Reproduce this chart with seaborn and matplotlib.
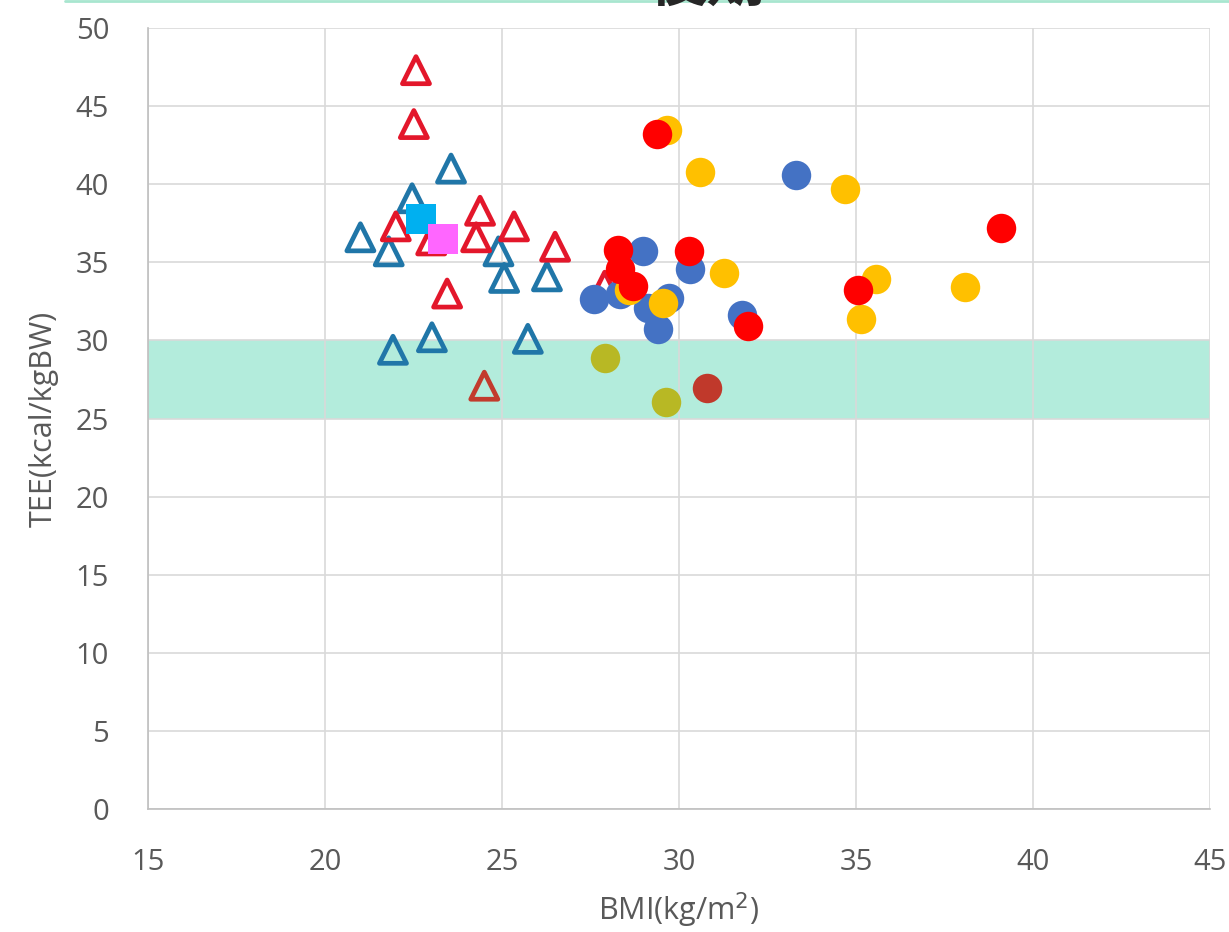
import matplotlib
import matplotlib.pyplot as plt
import pandas as pd
import seaborn as sns
from matplotlib.lines import Line2D

matplotlib.use("Agg")

# --- data (BMI, TEE) ---
tri_red_x = [22.57, 22.51, 24.38, 22.0, 25.34, 24.27, 26.5, 23.0, 23.45, 27.9]
tri_red_y = [47.3, 43.85, 38.3, 37.3, 37.3, 36.6, 36.0, 36.4, 33.0, 33.5]
tri_brown_x = [24.5]
tri_brown_y = [27.1]
tri_blue_x = [23.56, 22.46, 21.0, 21.8, 24.9, 25.06, 26.27, 21.92, 23.02, 25.73]
tri_blue_y = [41.0, 39.1, 36.6, 35.7, 35.7, 34.0, 34.1, 29.4, 30.2, 30.1]
sq_cyan_x = [22.71]
sq_cyan_y = [37.8]
sq_pink_x = [23.33]
sq_pink_y = [36.5]
dot_blue_x = [28.98, 27.6, 28.33, 29.12, 29.72, 29.4, 30.31, 33.3, 31.78]
dot_blue_y = [35.7, 32.65, 33.0, 32.1, 32.7, 30.7, 34.6, 40.6, 31.6]
dot_yellow_x = [29.66, 30.59, 31.27, 29.55, 34.7, 35.57, 35.14, 38.08, 28.6]
dot_yellow_y = [43.5, 40.8, 34.3, 32.4, 39.7, 33.9, 31.4, 33.4, 33.2]
dot_red_x = [29.38, 28.28, 30.28, 28.33, 28.7, 35.06, 31.95, 39.1]
dot_red_y = [43.2, 35.8, 35.7, 34.6, 33.5, 33.2, 30.9, 37.2]
dot_olive_x = [27.9, 29.63]
dot_olive_y = [28.9, 26.05]
dot_brown_x = [30.79]
dot_brown_y = [26.95]

x_ticks = [15, 20, 25, 30, 35, 40, 45]
y_ticks = [0, 5, 10, 15, 20, 25, 30, 35, 40, 45, 50]
band = (25, 30)

sns.set_style("white")
plt.rcParams["font.family"] = ["Open Sans", "Noto Sans CJK JP", "DejaVu Sans"]

grey_txt = "#595959"
fig = plt.figure(figsize=(12.29, 9.32), dpi=100)
ax = fig.add_axes([148 / 1229, 1 - 809 / 932, (1210 - 148) / 1229, (809 - 28) / 932])

ax.axhspan(band[0], band[1], color="#b3ecdc", zorder=0.5, lw=0)

groups = [
    (tri_blue_x, tri_blue_y, "^", "#2076a8", True),
    (tri_red_x, tri_red_y, "^", "#e3172b", True),
    (tri_brown_x, tri_brown_y, "^", "#c23b2d", True),
    (dot_blue_x, dot_blue_y, "o", "#4472c4", False),
    (dot_yellow_x, dot_yellow_y, "o", "#ffc000", False),
    (dot_red_x, dot_red_y, "o", "#ff0000", False),
    (dot_olive_x, dot_olive_y, "o", "#b8b824", False),
    (dot_brown_x, dot_brown_y, "o", "#c0392b", False),
    (sq_cyan_x, sq_cyan_y, "s", "#00b0f0", False),
    (sq_pink_x, sq_pink_y, "s", "#ff66ff", False),
]
for gx, gy, mk, col, hollow in groups:
    df = pd.DataFrame({"BMI": gx, "TEE": gy})
    if hollow:
        sns.scatterplot(data=df, x="BMI", y="TEE", ax=ax, marker=mk, s=380,
                        facecolor="none", edgecolor=col, linewidth=3.4, zorder=3)
    else:
        sns.scatterplot(data=df, x="BMI", y="TEE", ax=ax, marker=mk, s=450,
                        color=col, edgecolor=col, linewidth=0, zorder=3)

ax.set_xlim(15, 45)
ax.set_ylim(0, 50)
ax.set_xticks(x_ticks)
ax.set_yticks(y_ticks)
ax.grid(True, color="#d9d9d9", lw=1.2, zorder=0)
ax.set_axisbelow(True)
for side in ["top", "right"]:
    ax.spines[side].set_visible(False)
for side in ["left", "bottom"]:
    ax.spines[side].set_color("#bfbfbf")
    ax.spines[side].set_linewidth(1.2)
ax.tick_params(length=0, labelsize=21, labelcolor=grey_txt)
ax.tick_params(axis="y", pad=28)
ax.tick_params(axis="x", pad=28)
ax.set_xlabel("BMI(kg/m$^2$)", fontsize=22, color=grey_txt, labelpad=10)
ax.set_ylabel("TEE(kcal/kgBW)", fontsize=22, color=grey_txt, labelpad=12)

# title mostly cut off at the top edge, as in the reference
fig.text(0.575, 0.984, "後期", fontsize=42, fontweight="bold", ha="center", va="bottom")
fig.add_artist(Line2D([65 / 1229, 1], [0.999, 0.999], color="#a8e6cf", lw=2))

fig.savefig("out.png", dpi=100)
